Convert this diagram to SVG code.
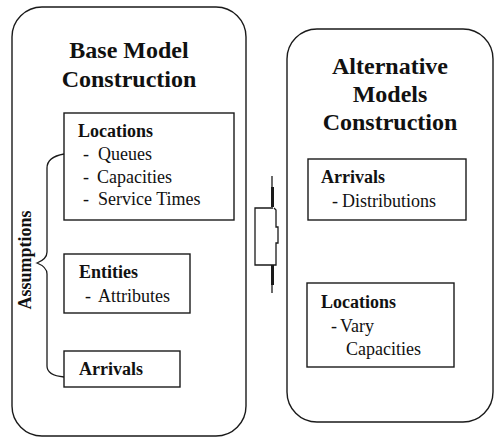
<svg xmlns="http://www.w3.org/2000/svg" width="495" height="437" viewBox="0 0 495 437">
  <style>
    .panel { fill: #ffffff; stroke: #1a1a1a; stroke-width: 1.4; }
    .box { fill: #ffffff; stroke: #1a1a1a; stroke-width: 1.4; }
    .line { fill: none; stroke: #1a1a1a; stroke-width: 1.3; }
    .thick { fill: none; stroke: #1a1a1a; stroke-width: 3; }
    .title { font-family: "Liberation Serif", "Times New Roman", serif; font-size: 24px; font-weight: bold; text-anchor: middle; fill: #111; }
    .head { font-family: "Liberation Serif", "Times New Roman", serif; font-size: 18px; font-weight: bold; fill: #111; }
    .item { font-family: "Liberation Serif", "Times New Roman", serif; font-size: 18px; fill: #111; }
  </style>

  <!-- Base model panel -->
  <g id="base-model">
    <rect class="panel" x="12" y="7" width="234" height="429" rx="30" ry="30"/>
    <text class="title" x="129" y="58">Base Model</text>
    <text class="title" x="129" y="87">Construction</text>
  </g>

  <g id="base-locations">
    <rect class="box" x="64" y="113" width="170" height="107"/>
    <text class="head" x="78" y="137">Locations</text>
    <text class="item" x="83" y="160">-<tspan x="98">Queues</tspan></text>
    <text class="item" x="83" y="183">-<tspan x="97">Capacities</tspan></text>
    <text class="item" x="83" y="205">-<tspan x="98">Service Times</tspan></text>
  </g>

  <g id="base-entities">
    <rect class="box" x="64" y="254" width="126" height="59"/>
    <text class="head" x="79" y="278">Entities</text>
    <text class="item" x="85" y="302">-<tspan x="98">Attributes</tspan></text>
  </g>

  <g id="base-arrivals">
    <rect class="box" x="64" y="351" width="116" height="36"/>
    <text class="head" x="79" y="375">Arrivals</text>
  </g>

  <!-- Alternative models panel -->
  <g id="alternative-models">
    <rect class="panel" x="287" y="29" width="206" height="393" rx="30" ry="30"/>
    <text class="title" x="390" y="74">Alternative</text>
    <text class="title" x="390" y="102">Models</text>
    <text class="title" x="390" y="130">Construction</text>
  </g>

  <g id="alt-arrivals">
    <rect class="box" x="308" y="159" width="158" height="61"/>
    <text class="head" x="321" y="183">Arrivals</text>
    <text class="item" x="332" y="207">-<tspan x="342">Distributions</tspan></text>
  </g>

  <g id="alt-locations">
    <rect class="box" x="307" y="283" width="147" height="84"/>
    <text class="head" x="321" y="308">Locations</text>
    <text class="item" x="331" y="332">-<tspan x="340">Vary</tspan></text>
    <text class="item" x="346" y="355">Capacities</text>
  </g>

  <!-- Connectors: assumptions brace and transition bracket -->
  <g id="connectors">
    <path class="line" d="M64,154 C53,156 47,160 47,168 L47,252 C47,258 42,261 37,263 C42,265 47,268 47,274 L47,366 C47,372 53,376 64,377"/>
    <text class="head" font-size="19" text-anchor="middle" transform="translate(31,260) rotate(-90)">Assumptions</text>

    <path class="line" d="M272,176 L272,188"/>
    <path class="thick" d="M272.5,187 L272.5,207"/>
    <path class="line" d="M273,208 L255,208 L255,265 L273,265"/>
    <path class="line" d="M274,208 L276,210 L276,227 L278,227 L278,243 L276,243 L276,265 L273,265"/>
    <path class="thick" d="M272.5,265 L272.5,285"/>
    <path class="line" d="M272,284 L272,293"/>
  </g>
</svg>
